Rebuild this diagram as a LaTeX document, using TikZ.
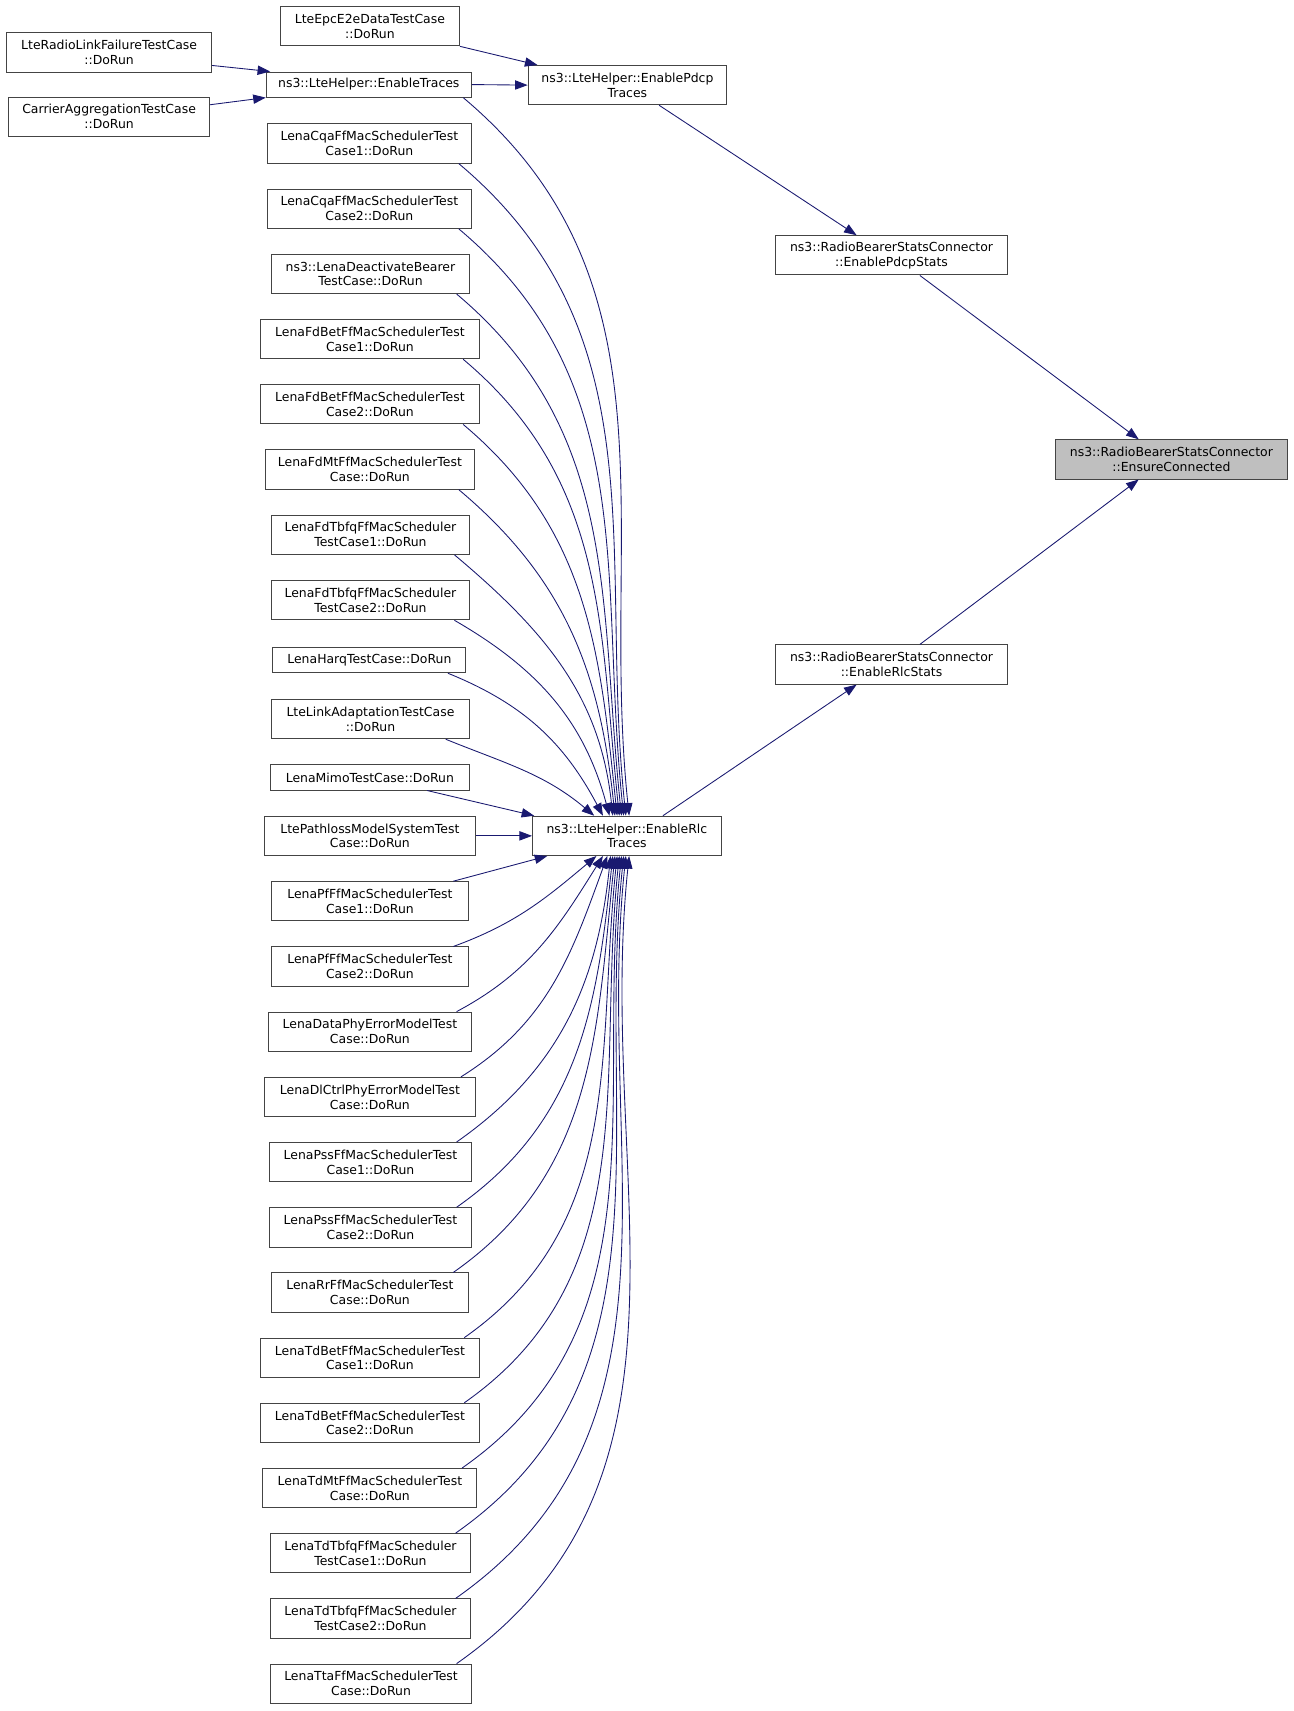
\documentclass[tikz,border=0pt]{standalone}
\usepackage{fontspec}
\setmainfont{DejaVu Sans}
\usetikzlibrary{arrows.meta}
\definecolor{midnight}{HTML}{191970}
\definecolor{boxline}{HTML}{444444}
\definecolor{hilite}{HTML}{BFBFBF}
\begin{document}
\begin{tikzpicture}[x=1pt,y=1pt,
  box/.style={draw=boxline, line width=0.9pt, fill=white, inner sep=0pt, align=center,
     minimum height=36pt, font=\fontsize{11.4pt}{13.6pt}\selectfont},
  onebox/.style={box, minimum height=23pt},
  conn/.style={draw=midnight, line width=0.8pt, -{Triangle[length=11.5pt,width=8.5pt]}, fill=none},
  up/.style={conn, out=-40, in=96},
  dn/.style={conn, out=35, in=-96}]
\useasboundingbox (0,0) rectangle (1185,-1568);
% right part
\node[box, minimum width=164] (e2e) at (339,-24) {LteEpcE2eDataTestCase\\::DoRun};
\node[box, minimum width=188] (rlf) at (100,-48) {LteRadioLinkFailureTestCase\\::DoRun};
\node[box, minimum width=184] (ca) at (100,-107) {CarrierAggregationTestCase\\::DoRun};
\node[onebox, minimum width=188] (traces) at (338,-77.5) {ns3::LteHelper::EnableTraces};
\node[box, minimum width=182] (pdcp) at (575,-78) {ns3::LteHelper::EnablePdcp\\Traces};
\node[box, minimum width=212] (pdcpstats) at (817,-234) {ns3::RadioBearerStatsConnector\\::EnablePdcpStats};
\node[box, minimum width=213, fill=hilite] (ensure) at (1073.5,-421) {ns3::RadioBearerStatsConnector\\::EnsureConnected};
\node[box, minimum width=212] (rlcstats) at (817,-609) {ns3::RadioBearerStatsConnector\\::EnableRlcStats};
\node[box, minimum width=173] (rlc) at (574.5,-766) {ns3::LteHelper::EnableRlc\\Traces};
% left column
\node[box, minimum width=187] (cqa1) at (338.5,-131.5) {LenaCqaFfMacSchedulerTest\\Case1::DoRun};
\node[box, minimum width=187] (cqa2) at (338.5,-191.3) {LenaCqaFfMacSchedulerTest\\Case2::DoRun};
\node[box, minimum width=181] (deact) at (339.5,-251) {ns3::LenaDeactivateBearer\\TestCase::DoRun};
\node[box, minimum width=200] (fdbet1) at (339,-310.8) {LenaFdBetFfMacSchedulerTest\\Case1::DoRun};
\node[box, minimum width=200] (fdbet2) at (339,-370.5) {LenaFdBetFfMacSchedulerTest\\Case2::DoRun};
\node[box, minimum width=192] (fdmt) at (339,-430.3) {LenaFdMtFfMacSchedulerTest\\Case::DoRun};
\node[box, minimum width=181] (fdtbfq1) at (339.5,-490) {LenaFdTbfqFfMacScheduler\\TestCase1::DoRun};
\node[box, minimum width=181] (fdtbfq2) at (339.5,-550) {LenaFdTbfqFfMacScheduler\\TestCase2::DoRun};
\node[onebox, minimum width=177] (harq) at (338.5,-605) {LenaHarqTestCase::DoRun};
\node[box, minimum width=181] (linkad) at (339.5,-659) {LteLinkAdaptationTestCase\\::DoRun};
\node[onebox, minimum width=182] (mimo) at (339,-712.5) {LenaMimoTestCase::DoRun};
\node[box, minimum width=194] (pathloss) at (339,-766) {LtePathlossModelSystemTest\\Case::DoRun};
\node[box, minimum width=180] (pf1) at (339,-826) {LenaPfFfMacSchedulerTest\\Case1::DoRun};
\node[box, minimum width=180] (pf2) at (339,-885.8) {LenaPfFfMacSchedulerTest\\Case2::DoRun};
\node[box, minimum width=186] (dataphy) at (339,-945.5) {LenaDataPhyErrorModelTest\\Case::DoRun};
\node[box, minimum width=194] (dlctrl) at (339,-1005.3) {LenaDlCtrlPhyErrorModelTest\\Case::DoRun};
\node[box, minimum width=185] (pss1) at (339.5,-1065) {LenaPssFfMacSchedulerTest\\Case1::DoRun};
\node[box, minimum width=185] (pss2) at (339.5,-1124.8) {LenaPssFfMacSchedulerTest\\Case2::DoRun};
\node[box, minimum width=180] (rr) at (339,-1184.5) {LenaRrFfMacSchedulerTest\\Case::DoRun};
\node[box, minimum width=200] (tdbet1) at (339,-1244.3) {LenaTdBetFfMacSchedulerTest\\Case1::DoRun};
\node[box, minimum width=200] (tdbet2) at (339,-1304) {LenaTdBetFfMacSchedulerTest\\Case2::DoRun};
\node[box, minimum width=196] (tdmt) at (339,-1363.8) {LenaTdMtFfMacSchedulerTest\\Case::DoRun};
\node[box, minimum width=183] (tdtbfq1) at (339.5,-1423.5) {LenaTdTbfqFfMacScheduler\\TestCase1::DoRun};
\node[box, minimum width=183] (tdtbfq2) at (339.5,-1483.3) {LenaTdTbfqFfMacScheduler\\TestCase2::DoRun};
\node[box, minimum width=184] (tta) at (340,-1543) {LenaTtaFfMacSchedulerTest\\Case::DoRun};
% top connectors
\draw[conn] (e2e.south east) -- ([xshift=9pt]pdcp.north west);
\draw[conn] ([yshift=-12pt]rlf.east) -- ([xshift=4pt]traces.north west);
\draw[conn] ([yshift=11pt]ca.east) -- (traces.south west);
\draw[conn] (traces.east) -- (pdcp.west);
\draw[conn] ([xshift=29pt]pdcp.south) -- ([xshift=-32pt]pdcpstats.north);
\draw[conn] ([xshift=26pt]pdcpstats.south) -- ([xshift=-30pt]ensure.north);
\draw[conn] ([xshift=26pt]rlcstats.north) -- ([xshift=-30pt]ensure.south);
\draw[conn] ([xshift=33pt]rlc.north) -- ([xshift=-32pt]rlcstats.south);
% callers above EnableRlc
\draw[up] ([xshift=-8pt]traces.south east) to ([xshift=89pt]rlc.north west);
\draw[up] ([xshift=-12pt]cqa1.south east) to ([xshift=86pt]rlc.north west);
\draw[up] ([xshift=-12pt]cqa2.south east) to ([xshift=84pt]rlc.north west);
\draw[up] ([xshift=-12pt]deact.south east) to ([xshift=82pt]rlc.north west);
\draw[up] ([xshift=-15pt]fdbet1.south east) to ([xshift=80pt]rlc.north west);
\draw[up] ([xshift=-15pt]fdbet2.south east) to ([xshift=78pt]rlc.north west);
\draw[up] ([xshift=-15pt]fdmt.south east) to ([xshift=76pt]rlc.north west);
\draw[up] ([xshift=-14pt]fdtbfq1.south east) to ([xshift=74pt]rlc.north west);
\draw[conn] ([xshift=-14pt]fdtbfq2.south east) to[out=-30,in=105] ([xshift=71pt]rlc.north west);
\draw[conn] ([xshift=-17pt]harq.south east) to[out=-22,in=118] ([xshift=65pt]rlc.north west);
\draw[conn] ([xshift=-22pt]linkad.south east) to[out=-22,in=140] ([xshift=57pt]rlc.north west);
\draw[conn] ([xshift=-39pt]mimo.south east) -- ([xshift=2pt]rlc.north west);
\draw[conn] (pathloss.east) -- (rlc.west);
% callers below EnableRlc
\draw[conn] ([xshift=-14pt]pf1.north east) -- ([xshift=14pt]rlc.south west);
\draw[conn] ([xshift=-14pt]pf2.north east) to[out=20,in=-140] ([xshift=59pt]rlc.south west);
\draw[conn] ([xshift=-14pt]dataphy.north east) to[out=28,in=-122] ([xshift=65pt]rlc.south west);
\draw[conn] ([xshift=-14pt]dlctrl.north east) to[out=32,in=-110] ([xshift=69pt]rlc.south west);
\draw[dn] ([xshift=-14pt]pss1.north east) to ([xshift=72pt]rlc.south west);
\draw[dn] ([xshift=-14pt]pss2.north east) to ([xshift=74pt]rlc.south west);
\draw[dn] ([xshift=-14pt]rr.north east) to ([xshift=76pt]rlc.south west);
\draw[dn] ([xshift=-14pt]tdbet1.north east) to ([xshift=78pt]rlc.south west);
\draw[dn] ([xshift=-14pt]tdbet2.north east) to ([xshift=80pt]rlc.south west);
\draw[dn] ([xshift=-14pt]tdmt.north east) to ([xshift=82pt]rlc.south west);
\draw[dn] ([xshift=-14pt]tdtbfq1.north east) to ([xshift=84pt]rlc.south west);
\draw[dn] ([xshift=-14pt]tdtbfq2.north east) to ([xshift=86pt]rlc.south west);
\draw[dn] ([xshift=-14pt]tta.north east) to ([xshift=89pt]rlc.south west);
\end{tikzpicture}
\end{document}
